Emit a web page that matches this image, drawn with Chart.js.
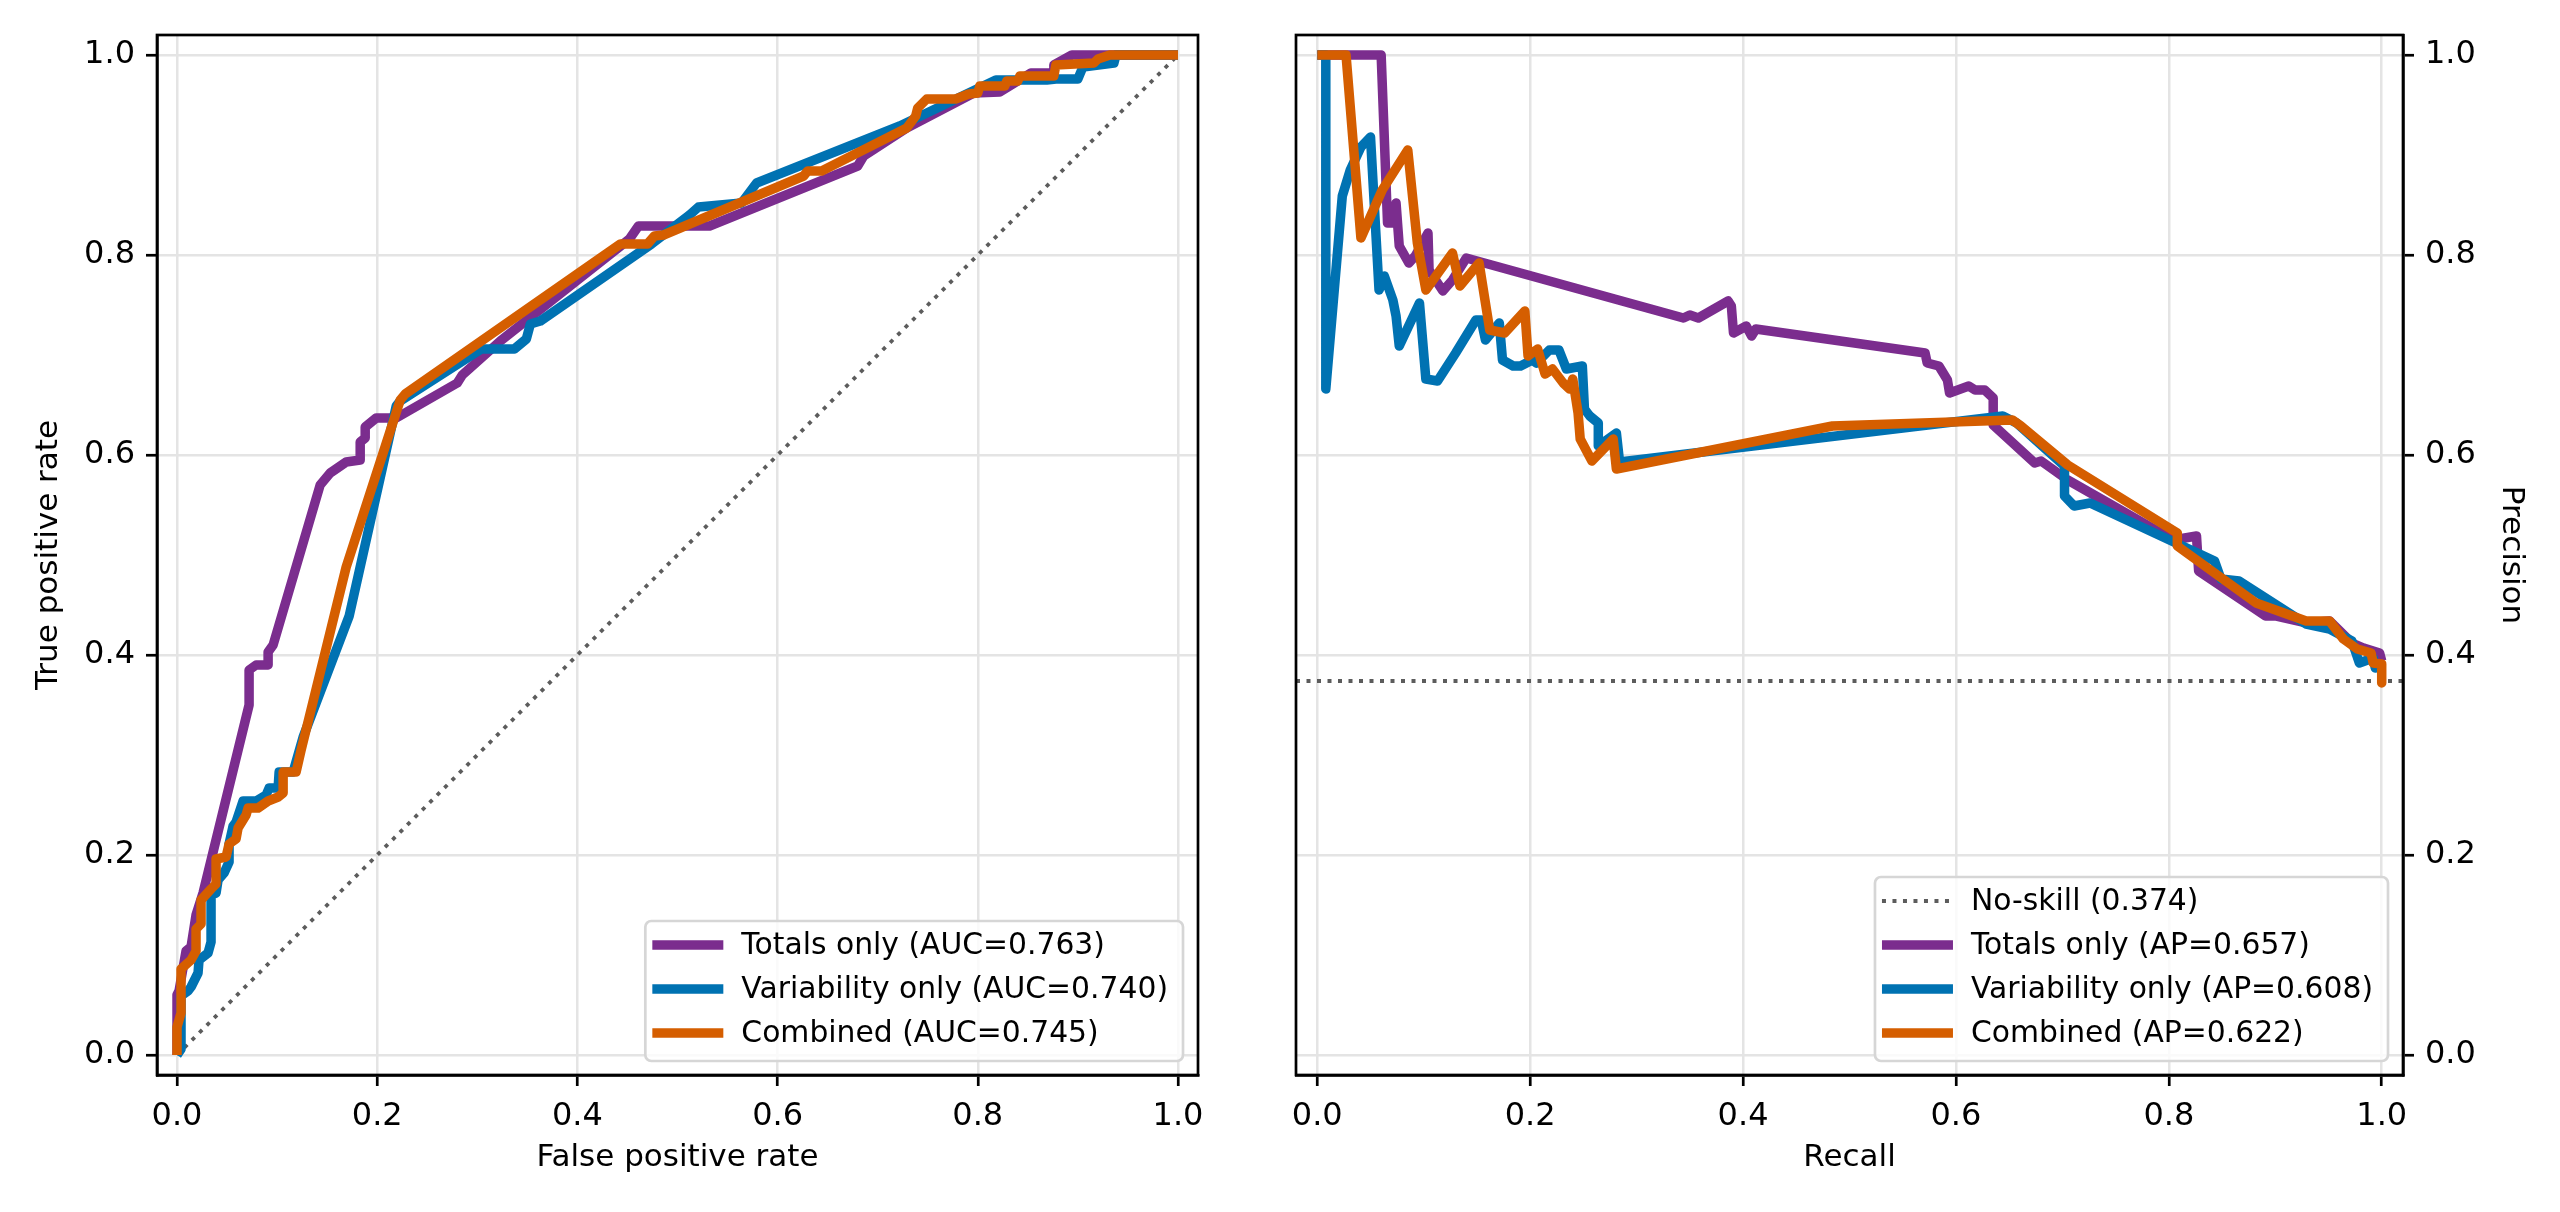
<!DOCTYPE html>
<html>
<head>
<meta charset="utf-8">
<script src="https://cdn.jsdelivr.net/npm/chart.js@4.4.1/dist/chart.umd.min.js"></script>
<style>
html, body { margin:0; padding:0; background:#fff; }
#wrap { position:relative; width:2560px; height:1212px; background:#fff; }
.panel { position:absolute; top:0; width:1280px; height:1212px; }
</style>
</head>
<body>
<div id="wrap">
	<div class="panel" style="left:0"><canvas id="roc"></canvas></div>
	<div class="panel" style="left:1280px"><canvas id="pr"></canvas></div>
</div>
<script>
// ROC curves (false positive rate -> true positive rate)
let rocTotalsX = [0, 0, 0.002, 0.009, 0.014, 0.019, 0.026, 0.072, 0.072, 0.079, 0.091, 0.091, 0.096, 0.143, 0.153, 0.169, 0.183, 0.183, 0.188, 0.188, 0.199, 0.219, 0.28, 0.285, 0.323, 0.452, 0.461, 0.532, 0.68, 0.686, 0.729, 0.796, 0.822, 0.853, 0.876, 0.876, 0.894, 1];
let rocTotalsY = [0, 0.06, 0.064, 0.104, 0.108, 0.14, 0.162, 0.35, 0.385, 0.39, 0.39, 0.403, 0.41, 0.57, 0.582, 0.593, 0.595, 0.613, 0.617, 0.628, 0.637, 0.637, 0.672, 0.68, 0.714, 0.816, 0.829, 0.829, 0.889, 0.899, 0.927, 0.962, 0.963, 0.982, 0.982, 0.99, 1, 1];

let rocVarX = [0, 0.004, 0.004, 0.011, 0.014, 0.021, 0.022, 0.031, 0.034, 0.034, 0.039, 0.041, 0.047, 0.052, 0.052, 0.056, 0.059, 0.066, 0.079, 0.089, 0.092, 0.101, 0.102, 0.116, 0.126, 0.172, 0.213, 0.219, 0.223, 0.304, 0.337, 0.349, 0.353, 0.363, 0.474, 0.512, 0.521, 0.564, 0.579, 0.722, 0.818, 0.869, 0.878, 0.9, 0.905, 0.936, 0.938, 1];
let rocVarY = [0, 0.006, 0.059, 0.064, 0.068, 0.082, 0.095, 0.102, 0.113, 0.16, 0.162, 0.175, 0.182, 0.193, 0.211, 0.229, 0.233, 0.254, 0.254, 0.26, 0.267, 0.267, 0.283, 0.283, 0.318, 0.439, 0.622, 0.649, 0.654, 0.706, 0.706, 0.716, 0.731, 0.734, 0.811, 0.84, 0.848, 0.852, 0.872, 0.929, 0.975, 0.975, 0.976, 0.976, 0.988, 0.992, 1, 1];

let rocCombX = [0, 0, 0.004, 0.004, 0.014, 0.019, 0.019, 0.024, 0.024, 0.034, 0.039, 0.039, 0.049, 0.052, 0.059, 0.061, 0.069, 0.071, 0.081, 0.091, 0.101, 0.106, 0.106, 0.119, 0.124, 0.169, 0.223, 0.228, 0.443, 0.47, 0.477, 0.486, 0.626, 0.63, 0.644, 0.729, 0.738, 0.74, 0.749, 0.778, 0.791, 0.8, 0.802, 0.827, 0.829, 0.84, 0.842, 0.876, 0.878, 0.916, 0.92, 0.932, 1];
let rocCombY = [0, 0.028, 0.042, 0.086, 0.095, 0.104, 0.126, 0.131, 0.155, 0.166, 0.171, 0.196, 0.198, 0.211, 0.216, 0.227, 0.24, 0.247, 0.247, 0.254, 0.258, 0.262, 0.283, 0.283, 0.305, 0.488, 0.655, 0.661, 0.811, 0.811, 0.819, 0.82, 0.879, 0.884, 0.884, 0.927, 0.939, 0.947, 0.956, 0.956, 0.961, 0.962, 0.969, 0.969, 0.974, 0.974, 0.979, 0.979, 0.99, 0.992, 0.996, 1, 1];

// PR curves (recall -> precision)
let prTotalsX = [0, 0.06, 0.066, 0.071, 0.074, 0.077, 0.086, 0.092, 0.104, 0.105, 0.118, 0.127, 0.14, 0.344, 0.35, 0.358, 0.386, 0.389, 0.391, 0.403, 0.408, 0.412, 0.571, 0.573, 0.584, 0.592, 0.594, 0.612, 0.618, 0.627, 0.635, 0.635, 0.674, 0.68, 0.705, 0.804, 0.826, 0.828, 0.891, 0.901, 0.93, 0.951, 0.972, 0.983, 0.998, 1];
let prTotalsY = [1, 1, 0.832, 0.832, 0.852, 0.809, 0.792, 0.799, 0.822, 0.785, 0.764, 0.775, 0.797, 0.737, 0.74, 0.737, 0.754, 0.749, 0.722, 0.729, 0.719, 0.726, 0.702, 0.692, 0.689, 0.675, 0.662, 0.669, 0.665, 0.665, 0.657, 0.63, 0.592, 0.594, 0.575, 0.515, 0.519, 0.484, 0.439, 0.439, 0.432, 0.434, 0.412, 0.407, 0.402, 0.394];

let prVarX = [0, 0.008, 0.008, 0.0235, 0.031, 0.041, 0.05, 0.058, 0.063, 0.071, 0.074, 0.077, 0.096, 0.102, 0.113, 0.13, 0.149, 0.154, 0.158, 0.171, 0.174, 0.184, 0.191, 0.202, 0.206, 0.218, 0.227, 0.234, 0.249, 0.251, 0.256, 0.264, 0.264, 0.281, 0.284, 0.644, 0.657, 0.702, 0.702, 0.711, 0.726, 0.843, 0.849, 0.866, 0.929, 0.951, 0.972, 0.979, 0.992, 0.994, 1];
let prVarY = [1, 1, 0.666, 0.859, 0.885, 0.908, 0.918, 0.765, 0.779, 0.755, 0.739, 0.709, 0.752, 0.676, 0.674, 0.702, 0.735, 0.735, 0.715, 0.732, 0.695, 0.689, 0.689, 0.695, 0.692, 0.705, 0.705, 0.686, 0.689, 0.646, 0.639, 0.632, 0.609, 0.622, 0.593, 0.639, 0.632, 0.589, 0.559, 0.549, 0.552, 0.494, 0.476, 0.474, 0.431, 0.426, 0.414, 0.392, 0.397, 0.387, 0.389];

let prCombX = [0, 0.027, 0.041, 0.061, 0.085, 0.094, 0.102, 0.127, 0.134, 0.152, 0.162, 0.176, 0.195, 0.198, 0.207, 0.214, 0.221, 0.231, 0.237, 0.24, 0.245, 0.247, 0.258, 0.278, 0.281, 0.484, 0.653, 0.661, 0.705, 0.808, 0.808, 0.817, 0.882, 0.929, 0.951, 0.964, 0.977, 0.99, 0.992, 1, 1];
let prCombY = [1, 1, 0.817, 0.865, 0.905, 0.812, 0.765, 0.802, 0.769, 0.792, 0.725, 0.722, 0.744, 0.699, 0.706, 0.681, 0.686, 0.672, 0.666, 0.676, 0.642, 0.616, 0.594, 0.616, 0.586, 0.629, 0.635, 0.629, 0.59, 0.522, 0.509, 0.502, 0.452, 0.434, 0.434, 0.416, 0.406, 0.402, 0.392, 0.391, 0.372];

let noSkill = 0.374;
let tickValues = [0, 0.2, 0.4, 0.6, 0.8, 1.0];

let rocLabels = ["Totals only (AUC=0.763)", "Variability only (AUC=0.740)", "Combined (AUC=0.745)"];
let prLabels = ["No-skill (0.374)", "Totals only (AP=0.657)", "Variability only (AP=0.608)", "Combined (AP=0.622)"];

const PURPLE = "#7b2d8e", BLUE = "#0072b2", ORANGE = "#d55e00", DOT = "#5c5c5c";
const FONT = "'DejaVu Sans', 'Liberation Sans', sans-serif";

function pts(xs, ys){
	let out = [];
	for(let i in xs){
		out.push({x: xs[i], y: ys[i]});
	}
	return out;
}

function curve(label, color, xs, ys, order){
	return {
		label: label, data: pts(xs, ys), order: order,
		borderColor: color, backgroundColor: color, borderWidth: 9.5,
		borderJoinStyle: "round", borderCapStyle: "butt",
		pointRadius: 0, fill: false, tension: 0
	};
}

function dotted(label, data, noLegend){
	return {
		label: label, data: data, order: 10, noLegend: noLegend,
		borderColor: DOT, borderWidth: 3.8, borderDash: [4, 6.5],
		borderCapStyle: "butt", pointRadius: 0, fill: false, tension: 0
	};
}

// full frame + matplotlib-like legend box at lower right
const frameLegend = {
	id: "frameLegend",
	afterDraw(chart){
		const ctx = chart.ctx, a = chart.chartArea;
		ctx.save();
		ctx.strokeStyle = "#000";
		ctx.lineWidth = 2.7;
		ctx.strokeRect(a.left, a.top, a.right - a.left, a.bottom - a.top);

		let items = chart.data.datasets.filter(d => !d.noLegend);
		ctx.font = "29.8px " + FONT;
		let tw = 0;
		items.forEach(d => { tw = Math.max(tw, ctx.measureText(d.label).width); });
		let rowH = 44;
		let w = 96 + tw + 15, h = items.length * rowH + 8;
		let x0 = a.right - 15 - w, y0 = a.bottom - 14 - h;
		ctx.beginPath();
		ctx.roundRect(x0, y0, w, h, 6);
		ctx.fillStyle = "rgba(255,255,255,0.8)";
		ctx.fill();
		ctx.lineWidth = 2.7;
		ctx.strokeStyle = "#d6d6d6";
		ctx.stroke();
		items.forEach((d, i) => {
			let cy = y0 + 24 + i * rowH;
			ctx.beginPath();
			ctx.strokeStyle = d.borderColor;
			ctx.lineWidth = d.borderWidth;
			ctx.setLineDash(d.borderDash || []);
			ctx.lineCap = "butt";
			ctx.moveTo(x0 + 7, cy);
			ctx.lineTo(x0 + 78, cy);
			ctx.stroke();
			ctx.setLineDash([]);
			ctx.fillStyle = "#000";
			ctx.textBaseline = "middle";
			ctx.textAlign = "left";
			ctx.fillText(d.label, x0 + 96, cy + 1);
		});
		ctx.restore();
	}
};

function axis(position, title, titlePad, size){
	return {
		type: "linear", position: position, min: -0.02, max: 1.02,
		afterBuildTicks: s => { s.ticks = tickValues.map(v => ({value: v})); },
		afterFit: s => { if(s.isHorizontal()) s.height = size; else s.width = size; },
		ticks: {
			color: "#000", padding: 11, font: {family: FONT, size: 32},
			callback: v => Number(v).toFixed(1), maxRotation: 0, autoSkip: false
		},
		grid: {
			color: "#e4e4e4", lineWidth: 2.5, drawTicks: true,
			tickLength: 11, tickColor: "#000", tickWidth: 2.7
		},
		border: {display: true, color: "#000", width: 2.7},
		title: {
			display: true, text: title, color: "#000",
			font: {family: FONT, size: 31}, padding: titlePad
		}
	};
}

Chart.defaults.devicePixelRatio = 1;

new Chart(document.getElementById("roc"), {
	type: "line",
	data: {
		datasets: [
			curve(rocLabels[0], PURPLE, rocTotalsX, rocTotalsY, 3),
			curve(rocLabels[1], BLUE, rocVarX, rocVarY, 2),
			curve(rocLabels[2], ORANGE, rocCombX, rocCombY, 1),
			dotted("chance", [{x: 0, y: 0}, {x: 1, y: 1}], true)
		]
	},
	options: {
		animation: false, responsive: true, maintainAspectRatio: false,
		layout: {padding: {left: 0, right: 82, top: 35, bottom: 0}},
		plugins: {legend: {display: false}, tooltip: {enabled: false}},
		scales: {
			x: axis("bottom", "False positive rate", {top: 0, bottom: 35}, 137),
			y: axis("left", "True positive rate", {top: 30, bottom: 0}, 157)
		}
	},
	plugins: [frameLegend]
});

new Chart(document.getElementById("pr"), {
	type: "line",
	data: {
		datasets: [
			dotted(prLabels[0], [{x: -0.02, y: noSkill}, {x: 1.02, y: noSkill}], false),
			curve(prLabels[1], PURPLE, prTotalsX, prTotalsY, 3),
			curve(prLabels[2], BLUE, prVarX, prVarY, 2),
			curve(prLabels[3], ORANGE, prCombX, prCombY, 1)
		]
	},
	options: {
		animation: false, responsive: true, maintainAspectRatio: false,
		layout: {padding: {left: 16, right: 0, top: 35, bottom: 0}},
		plugins: {legend: {display: false}, tooltip: {enabled: false}},
		scales: {
			x: axis("bottom", "Recall", {top: 0, bottom: 35}, 137),
			y: axis("right", "Precision", {top: 30, bottom: 0}, 157)
		}
	},
	plugins: [frameLegend]
});
</script>
</body>
</html>
